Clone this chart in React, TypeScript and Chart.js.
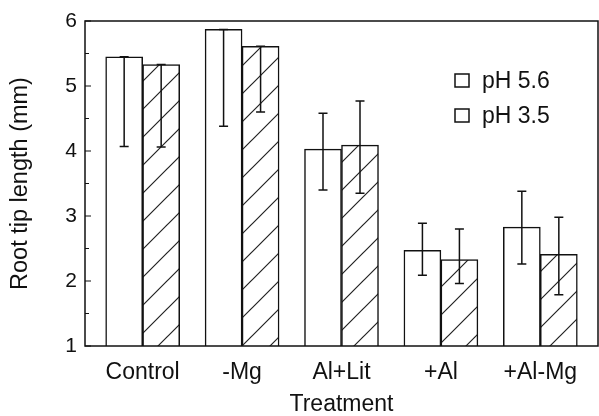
import React, { useEffect, useRef } from "react";
import { Chart, registerables } from "chart.js";

Chart.register(...registerables);

const categories = ["Control", "-Mg", "Al+Lit", "+Al", "+Al-Mg"];
const seriesNames = ["pH 5.6", "pH 3.5"];
const ph56Mean = [5.45, 5.87, 4.03, 2.47, 2.83];
const ph56Low = [4.07, 4.38, 3.4, 2.09, 2.26];
const ph56High = [5.45, 5.87, 4.58, 2.89, 3.38];
const ph35Mean = [5.33, 5.61, 4.09, 2.33, 2.41];
const ph35Low = [4.06, 4.6, 3.35, 1.96, 1.79];
const ph35High = [5.33, 5.61, 4.77, 2.8, 2.98];
const yTicks = [1, 2, 3, 4, 5, 6];
const yMinorTicks = [1.5, 2.5, 3.5, 4.5, 5.5];

const FONT = "'Liberation Sans', Arial, Helvetica, sans-serif";

function makeHatch(): CanvasPattern | string {
  const c = document.createElement("canvas");
  const s = 28;
  c.width = s;
  c.height = s;
  const g = c.getContext("2d");
  if (!g) return "#fff";
  g.fillStyle = "#fff";
  g.fillRect(0, 0, s, s);
  g.strokeStyle = "#222";
  g.lineWidth = 1.2;
  g.beginPath();
  g.moveTo(-2, s + 2);
  g.lineTo(s + 2, -2);
  g.moveTo(-2, 2);
  g.lineTo(2, -2);
  g.moveTo(s - 2, s + 2);
  g.lineTo(s + 2, s - 2);
  g.stroke();
  const p = g.createPattern(c, "repeat");
  return p || "#fff";
}

export default function App() {
  const ref = useRef<HTMLCanvasElement | null>(null);

  useEffect(() => {
    if (!ref.current) return;
    const hatch = makeHatch();
    const lows = [ph56Low, ph35Low];
    const highs = [ph56High, ph35High];

    const framePlugin = {
      id: "frameAndErrors",
      afterDatasetsDraw(chart: any) {
        const ctx = chart.ctx;
        const ca = chart.chartArea;
        const ys = chart.scales.y;
        ctx.save();
        ctx.strokeStyle = "#111";
        ctx.lineWidth = 1.5;
        for (let d = 0; d < 2; d++) {
          const meta = chart.getDatasetMeta(d);
          meta.data.forEach((bar: any, j: number) => {
            const x = bar.x;
            const yl = ys.getPixelForValue(lows[d][j]);
            const yh = ys.getPixelForValue(highs[d][j]);
            ctx.beginPath();
            ctx.moveTo(x, yh);
            ctx.lineTo(x, yl);
            ctx.moveTo(x - 4.5, yl);
            ctx.lineTo(x + 4.5, yl);
            ctx.moveTo(x - 4.5, yh);
            ctx.lineTo(x + 4.5, yh);
            ctx.stroke();
          });
        }
        ctx.lineWidth = 1.5;
        ctx.strokeStyle = "#111";
        ctx.strokeRect(ca.left, ca.top, ca.right - ca.left, ca.bottom - ca.top);
        ctx.lineWidth = 1.2;
        ctx.beginPath();
        yTicks.forEach((v) => {
          const y = ys.getPixelForValue(v);
          ctx.moveTo(ca.left, y);
          ctx.lineTo(ca.left + 6, y);
        });
        yMinorTicks.forEach((v) => {
          const y = ys.getPixelForValue(v);
          ctx.moveTo(ca.left, y);
          ctx.lineTo(ca.left + 4, y);
        });
        ctx.stroke();
        const lx = ca.right - 143;
        const rows = [ca.top + 60, ca.top + 95];
        ctx.font = "23px " + FONT;
        ctx.textBaseline = "middle";
        ctx.textAlign = "left";
        seriesNames.forEach((name, i) => {
          const cy = rows[i];
          ctx.fillStyle = "#fff";
          ctx.fillRect(lx, cy - 7, 14, 13);
          ctx.strokeStyle = "#111";
          ctx.lineWidth = 1.5;
          ctx.strokeRect(lx, cy - 7, 14, 13);
          ctx.fillStyle = "#111";
          ctx.fillText(name, lx + 27, cy + 1);
        });
        ctx.restore();
      },
    };

    const chart = new Chart(ref.current, {
      type: "bar",
      data: {
        datasets: [
          {
            label: seriesNames[0],
            data: categories.map((_, i) => ({ x: i, y: ph56Mean[i] })),
            backgroundColor: "#ffffff",
            borderColor: "#111",
            borderWidth: 1.5,
            barThickness: 37,
          },
          {
            label: seriesNames[1],
            data: categories.map((_, i) => ({ x: i, y: ph35Mean[i] })),
            backgroundColor: hatch as any,
            borderColor: "#111",
            borderWidth: 1.5,
            barThickness: 37,
          },
        ],
      },
      options: {
        responsive: false,
        animation: false,
        layout: { padding: { top: 21, right: 1, left: 0, bottom: 0 } },
        plugins: { legend: { display: false }, tooltip: { enabled: false } },
        scales: {
          x: {
            type: "linear",
            offset: false,
            min: -0.58,
            max: 4.58,
            grid: { display: false, offset: false },
            border: { display: false },
            afterBuildTicks: (scale: any) => {
              scale.ticks = categories.map((_, i) => ({ value: i }));
            },
            afterFit: (scale: any) => {
              scale.height = 70;
            },
            ticks: {
              autoSkip: false,
              maxRotation: 0,
              padding: 5,
              color: "#111",
              font: { family: FONT, size: 23 },
              callback: (v: any) => categories[Math.round(Number(v))] ?? "",
            },
            title: {
              display: true,
              text: "Treatment",
              color: "#111",
              font: { family: FONT, size: 23, lineHeight: 1 },
              padding: { top: 0, bottom: 0 },
            },
          },
          y: {
            min: 1,
            max: 6,
            grid: { display: false, drawTicks: false },
            border: { display: false },
            afterBuildTicks: (scale: any) => {
              scale.ticks = yTicks.map((v) => ({ value: v }));
            },
            afterFit: (scale: any) => {
              scale.width = 85;
            },
            ticks: {
              padding: 8,
              color: "#111",
              font: { family: FONT, size: 21 },
            },
            title: {
              display: true,
              text: "Root tip length (mm)",
              color: "#111",
              font: { family: FONT, size: 23.5, lineHeight: 1 },
              padding: { top: 9, bottom: 0 },
            },
          },
        },
      },
      plugins: [framePlugin],
    } as any);

    return () => chart.destroy();
  }, []);

  return (
    <div style={{ position: "fixed", left: 0, top: 0, width: 599, height: 416, background: "#fff" }}>
      <canvas ref={ref} width={599} height={416} style={{ display: "block", width: 599, height: 416 }} />
    </div>
  );
}
